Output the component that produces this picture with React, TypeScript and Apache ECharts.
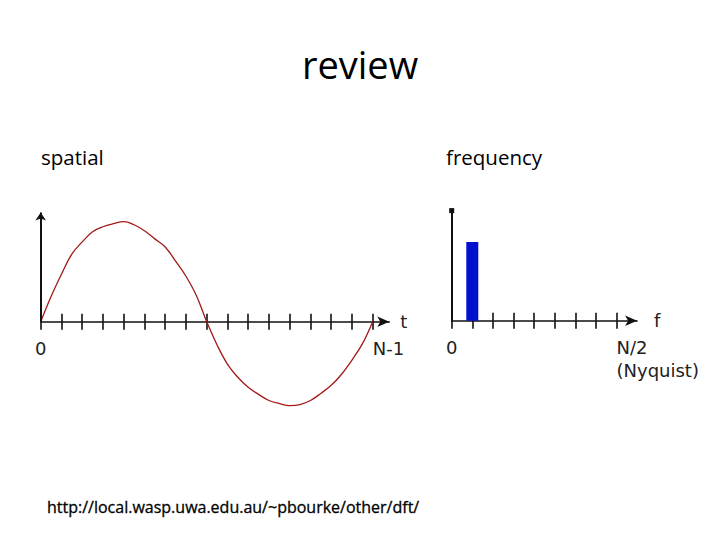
import React, { useEffect, useRef } from "react";
import * as echarts from "echarts";

// spatial domain: sample positions (in tick units, 0 .. N-1 = 16) and amplitudes
const spatialT = [0, 0.5, 1, 1.5, 2, 2.5, 3, 3.5, 4, 4.5, 5, 5.5, 6, 6.5, 7, 7.5, 8, 8.5, 9, 9.5, 10, 10.5, 11, 11.5, 12, 12.5, 13, 13.5, 14, 14.5, 15, 15.5, 16];
const spatialAmp = [0, 0.25, 0.47, 0.67, 0.79, 0.89, 0.94, 0.97, 0.99, 0.96, 0.9, 0.82, 0.74, 0.6, 0.45, 0.26, 0, -0.23, -0.42, -0.55, -0.65, -0.72, -0.78, -0.81, -0.83, -0.82, -0.78, -0.71, -0.63, -0.52, -0.38, -0.22, 0];

// frequency domain: bins 0 .. N/2 and magnitudes
const freqBins = [0, 1, 2, 3, 4, 5, 6, 7, 8];
const freqMag = [0, 0.78, 0, 0, 0, 0, 0, 0, 0];

// ticks and tick labels
const spatialTicks = [0, 1, 2, 3, 4, 5, 6, 7, 8, 9, 10, 11, 12, 13, 14, 15, 16];
const spatialLabelValues = [0, 16];
const spatialLabelTexts = ["0", "N-1"];
const freqTicks = [0, 1, 2, 3, 4, 5, 6, 7, 8];
const freqLabelValues = [0, 8];
const freqLabelTexts = ["0", "N/2\n(Nyquist)"];

const titleText = "review";
const leftCaption = "spatial";
const rightCaption = "frequency";
const sourceUrl = "http://local.wasp.uwa.edu.au/~pbourke/other/dft/";

const INK = "#111";
const LABEL_FONT = "DejaVu Sans";
const TEXT_FONT = "Open Sans";

const L_LEFT = 40.7;
const L_MAX = 16.8;
const L_STEP = 20.75;
const R_LEFT = 451.7;
const R_MAX = 9.0;
const R_STEP = 20.6;
const AXIS_Y_L = 321.7;
const AXIS_Y_R = 320.7;
const TOP = 210.6;

function makeAxisPair(gridIndex: number, max: number, ticks: number[], labelValues: number[], labelTexts: string[], name: string, nameGap: number) {
  const tickStyle = { color: INK, width: 1.6 };
  const bottom = {
    type: "value",
    gridIndex,
    min: 0,
    max,
    position: "bottom",
    axisLine: { show: true, onZero: false, symbol: ["none", "arrow"], symbolSize: [8, 12], lineStyle: { color: INK, width: 1.5 } },
    axisTick: { show: true, inside: false, length: 8, customValues: ticks, lineStyle: tickStyle },
    axisLabel: {
      show: true,
      customValues: labelValues,
      formatter: (v: number) => {
        const i = labelValues.indexOf(v);
        return i >= 0 ? labelTexts[i] : "";
      },
      margin: 15,
      fontSize: 18,
      lineHeight: 23,
      fontFamily: LABEL_FONT,
      color: "#222",
      align: "center",
      alignMaxLabel: "left",
      verticalAlign: "top",
    },
    splitLine: { show: false },
    name,
    nameLocation: "end",
    nameGap,
    nameTextStyle: { fontSize: 18, fontFamily: LABEL_FONT, color: "#222" },
  };
  const top = {
    type: "value",
    gridIndex,
    min: 0,
    max,
    position: "top",
    axisLine: { show: false, onZero: false },
    axisTick: { show: true, inside: false, length: 8, customValues: ticks, lineStyle: tickStyle },
    axisLabel: { show: false },
    splitLine: { show: false },
  };
  return [bottom, top];
}

function hiddenX(gridIndex: number, max: number) {
  return { type: "value", gridIndex, min: 0, max, show: false, splitLine: { show: false } };
}

export default function App() {
  const ref = useRef<HTMLDivElement>(null);
  useEffect(() => {
    if (!ref.current) return;
    const chart = echarts.init(ref.current, undefined, { renderer: "svg" });
    const option: any = {
      animation: false,
      backgroundColor: "#ffffff",
      title: [
        { text: titleText, left: "center", top: 45, padding: 0, textStyle: { fontFamily: TEXT_FONT, fontSize: 38, fontWeight: "normal", color: "#000" } },
        { text: leftCaption, left: 41, top: 146, padding: 0, textStyle: { fontFamily: TEXT_FONT, fontSize: 20.5, fontWeight: "normal", color: "#000" } },
        { text: rightCaption, left: 446, top: 146, padding: 0, textStyle: { fontFamily: TEXT_FONT, fontSize: 20.5, fontWeight: "normal", color: "#000" } },
        { text: sourceUrl, left: 47, top: 499, padding: 0, textStyle: { fontFamily: TEXT_FONT, fontSize: 16, fontWeight: "normal", color: "#000", textBorderColor: "#000", textBorderWidth: 0.3 } },
      ],
      grid: [
        // left plot area
        { left: L_LEFT, top: TOP, width: L_MAX * L_STEP, height: 212.1, outerBoundsMode: "none", containLabel: false },
        // left axis strip
        { left: L_LEFT, top: AXIS_Y_L, width: L_MAX * L_STEP, height: 0.01, outerBoundsMode: "none", containLabel: false },
        // right plot area
        { left: R_LEFT, top: TOP, width: R_MAX * R_STEP, height: AXIS_Y_R - TOP, outerBoundsMode: "none", containLabel: false },
        // right axis strip
        { left: R_LEFT, top: AXIS_Y_R, width: R_MAX * R_STEP, height: 0.01, outerBoundsMode: "none", containLabel: false },
      ],
      xAxis: [
        hiddenX(0, L_MAX),
        ...makeAxisPair(1, L_MAX, spatialTicks, spatialLabelValues, spatialLabelTexts, "t", 11),
        hiddenX(2, R_MAX),
        ...makeAxisPair(3, R_MAX, freqTicks, freqLabelValues, freqLabelTexts, "f", 17),
      ],
      yAxis: [
        { type: "value", gridIndex: 0, min: -1, max: 1.1, show: false, splitLine: { show: false } },
        { type: "value", gridIndex: 1, min: 0, max: 1, show: false, splitLine: { show: false } },
        {
          type: "value",
          gridIndex: 2,
          min: 0,
          max: 1.09,
          axisLine: { show: true, onZero: false, symbol: ["none", "rect"], symbolSize: [5, 5], lineStyle: { color: INK, width: 2 } },
          axisTick: { show: false },
          axisLabel: { show: false },
          splitLine: { show: false },
        },
        { type: "value", gridIndex: 3, min: 0, max: 1, show: false, splitLine: { show: false } },
      ],
      series: [
        {
          type: "line",
          xAxisIndex: 0,
          yAxisIndex: 0,
          data: spatialT.map((t, i) => [t, spatialAmp[i]]),
          smooth: 0.4,
          symbol: "none",
          showSymbol: false,
          clip: false,
          z: 3,
          lineStyle: { color: "#a31818", width: 1.3 },
          markLine: {
            silent: true,
            symbol: ["none", "arrow"],
            symbolSize: 8,
            label: { show: false },
            lineStyle: { color: INK, width: 2, type: "solid" },
            data: [[{ coord: [0, 0] }, { coord: [0, 1.08] }]],
          },
        },
        {
          type: "bar",
          xAxisIndex: 3,
          yAxisIndex: 2,
          data: freqBins.map((b, i) => [b, freqMag[i]]),
          barWidth: 12,
          itemStyle: { color: "#0010cc" },
        },
      ],
    };
    chart.setOption(option);
    return () => chart.dispose();
  }, []);
  return (
    <div
      ref={ref}
      style={{ position: "fixed", left: 0, top: 0, width: 720, height: 540, background: "#fff" }}
    />
  );
}
